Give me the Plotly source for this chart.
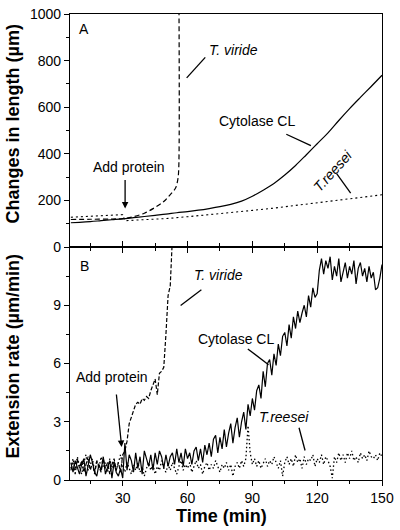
import plotly.graph_objects as go

# ---------------- Panel A: changes in length (µm) ----------------
len_time_cytolase = [6, 10, 15, 20, 25, 30, 35, 40, 45, 50, 55, 60, 65, 70, 75, 80, 85, 90,
                     95, 100, 105, 110, 115, 120, 125, 130, 135, 140, 145, 150]
len_cytolase = [104, 106, 109, 113, 117, 121, 126, 131, 136, 141, 147, 152, 158, 165, 173, 183,
                197, 218, 244, 273, 309, 350, 396, 443, 490, 543, 594, 642, 689, 737]

len_time_reesei = [6, 15, 25, 30, 31, 40, 50, 60, 70, 80, 90, 100, 110, 120, 130, 140, 150]
len_reesei = [128, 131, 136, 139, 113, 116, 122, 130, 138, 147, 157, 167, 178, 189, 200, 212, 224]

len_time_viride = [6, 15, 25, 30, 35, 40, 45, 49, 52, 54.4, 55.5, 55.9, 56.0]
len_viride = [118, 119, 120, 122, 130, 145, 170, 195, 225, 252, 290, 330, 1100]

# ---------------- Panel B: extension rate (µm/min) ----------------
rate_time = list(range(6, 151))
rate_cytolase = [
    0.9, 0.4, 1.0, 0.7, 0.3, 0.8, 1.1, 0.2, 0.7, 1.3, 0.9, 0.4, 0.2, 0.8, 0.5, 1.2, 0.3, 0.7, 1.0, 0.1,
    0.9, 0.4, 0.2, 0.6, 0.1,                                   # 6-30
    1.9, 0.5, 1.3, 1.0, 0.4, 1.4, 0.6, 1.2, 0.3, 1.5, 1.1, 0.7, 1.3, 0.5, 1.4, 0.8, 1.5, 1.2, 0.6, 1.3,
    0.7, 1.2, 1.4, 0.8, 1.6, 0.9, 1.4, 0.7, 1.6, 1.1,          # 31-60
    1.4, 0.8, 1.5, 1.7, 1.0, 1.6, 0.9, 1.8, 1.3, 1.9, 1.2, 2.1, 2.3, 1.4, 2.2, 1.6, 2.6, 1.7, 2.4, 2.9,
    1.9, 2.7, 3.2, 2.2, 3.0, 3.5, 2.6, 3.9, 3.3, 4.2,          # 61-90
    3.6, 4.6, 4.9, 4.2, 5.6, 4.8, 6.0, 6.2, 5.4, 6.5, 5.9, 7.0, 6.4, 7.4, 7.6, 6.9, 8.0, 7.3, 8.4, 7.8,
    8.7, 8.1, 8.6, 9.0, 8.4, 9.5, 8.9, 9.9, 9.4, 9.6,          # 91-120
    10.8, 11.4, 10.6, 11.3, 10.9, 11.5, 10.3, 11.0, 10.5, 11.4, 10.2, 10.8, 11.2, 10.4, 11.0, 10.6,
    11.3, 10.1, 10.9, 11.2, 10.5, 10.9, 10.2, 11.0, 10.4, 10.7, 9.8, 9.9, 10.4, 11.1,   # 121-150
]
rate_reesei = [
    0.6, 1.1, 0.5, 1.2, 0.7, 0.3, 0.9, 1.3, 0.5, 0.8, 1.1, 0.4, 1.0, 0.6, 1.2, 0.7, 0.9, 0.4, 1.1, 0.6,
    1.0, 0.5, 0.9, 1.3, 0.7,                                   # 6-30
    0.4, 0.9, 0.6, 0.3, 0.8, 0.5, 0.9, 0.4, 0.7, 0.2, 0.6, 0.9, 0.5, 0.8, 0.3, 0.7, 0.5, 1.0, 0.6, 0.4,
    0.8, 0.5, 0.9, 0.6, 0.3, 0.7, 1.0, 0.5, 0.8, 0.6,          # 31-60
    0.9, 0.4, 0.7, 1.0, 0.6, 0.8, 0.3, 0.7, 0.9, 0.5, 0.8, 0.6, 1.0, 0.7, 0.4, 0.8, 0.6, 0.9, 0.5, 0.8,
    0.2, 0.7, 0.9, 0.6, 1.0, 0.7, 1.1, 2.8, 1.4, 0.8,          # 61-90
    1.1, 0.7, 1.0, 0.6, 0.9, 1.1, 0.7, 1.0, 0.8, 1.2, 0.9, 0.6, 1.0, 0.2, 0.9, 1.2, 0.8, 1.1, 0.7, 1.3,
    0.9, 1.1, 0.6, 1.2, 0.8, 1.1, 1.0, 1.3, 0.7, 1.1,          # 91-120
    0.9, 1.3, 0.8, 1.2, 1.0, 0.7, 0.1, 1.2, 0.9, 1.4, 1.0, 1.3, 0.9, 1.4, 1.1, 1.5, 1.0, 1.2, 0.9, 1.4,
    1.1, 1.3, 1.0, 1.5, 1.2, 1.1, 1.3, 1.0, 1.4, 1.2,          # 121-150
]
rate_time_viride = list(range(6, 54))
rate_viride = [
    0.5, 0.9, 0.3, 1.1, 0.6, 1.0, 0.4, 0.8, 1.2, 0.5, 0.9, 0.3, 1.0, 0.7, 0.4, 1.1, 0.6, 0.9, 0.3, 0.8,
    1.1, 0.5, 0.9, 0.4, 1.3,                                   # 6-30
    1.5, 2.0, 2.9, 3.2, 3.6, 3.9, 4.0, 3.9, 4.2, 4.1, 4.3, 4.2, 4.6, 4.9, 5.2, 4.4, 5.5, 5.6, 5.8, 7.5,
    9.5, 10.0, 12.5,                                           # 31-53
]

x_ticks = [30, 60, 90, 120, 150]
x_ticklabels = ["30", "60", "90", "120", "150"]
yA_ticks = [0, 200, 400, 600, 800, 1000]
yB_ticks = [0, 3, 6, 9]

FONT = "Arial, Liberation Sans, sans-serif"
BLACK = "black"

fig = go.Figure()

# Panel A traces
fig.add_trace(go.Scatter(x=len_time_cytolase, y=len_cytolase, mode="lines", line_shape="spline",
                         line=dict(color=BLACK, width=1.2), xaxis="x", yaxis="y", name="Cytolase CL"))
fig.add_trace(go.Scatter(x=len_time_reesei, y=len_reesei, mode="lines",
                         line=dict(color=BLACK, width=1.1, dash="2px,3px"), xaxis="x", yaxis="y",
                         name="T. reesei"))
fig.add_trace(go.Scatter(x=len_time_viride, y=len_viride, mode="lines", line_shape="spline",
                         line=dict(color=BLACK, width=1.2, dash="5px,3px"), xaxis="x", yaxis="y",
                         name="T. viride"))

# Panel B traces
fig.add_trace(go.Scatter(x=rate_time, y=rate_reesei, mode="lines",
                         line=dict(color=BLACK, width=1.3, dash="1.5px,2.5px"), xaxis="x2", yaxis="y2",
                         name="T. reesei"))
fig.add_trace(go.Scatter(x=rate_time_viride, y=rate_viride, mode="lines",
                         line=dict(color=BLACK, width=1.2, dash="4px,2px"), xaxis="x2", yaxis="y2",
                         name="T. viride"))
fig.add_trace(go.Scatter(x=rate_time, y=rate_cytolase, mode="lines",
                         line=dict(color=BLACK, width=1.2), xaxis="x2", yaxis="y2",
                         name="Cytolase CL"))

XR = [5.6, 150]
axis_common = dict(showline=True, linecolor=BLACK, linewidth=1.3, ticks="outside", ticklen=5,
                   tickwidth=1.2, tickcolor=BLACK, showgrid=False, zeroline=False,
                   ticklabeloverflow="allow",
                   tickfont=dict(family=FONT, size=14, color=BLACK))

fig.update_layout(
    width=400, height=530,
    margin=dict(l=70, r=14, t=6, b=50),
    paper_bgcolor="white", plot_bgcolor="white",
    showlegend=False,
    xaxis=dict(axis_common, range=XR, anchor="y", tickvals=x_ticks, showticklabels=False,
               mirror=True, minor=dict(dtick=15, tick0=0, ticklen=3, ticks="outside", tickcolor=BLACK)),
    yaxis=dict(axis_common, range=[0, 1000], domain=[0.5, 1.0], anchor="x", tickvals=yA_ticks,
               mirror=True, minor=dict(dtick=100, tick0=0, ticklen=3, ticks="outside", tickcolor=BLACK)),
    xaxis2=dict(axis_common, range=XR, anchor="y2", tickvals=x_ticks, ticktext=x_ticklabels,
                mirror="ticks", minor=dict(dtick=15, tick0=0, ticklen=3, ticks="outside", tickcolor=BLACK)),
    yaxis2=dict(axis_common, range=[0, 12], domain=[0.0, 0.5], anchor="x2", tickvals=yB_ticks,
                mirror=True, minor=dict(dtick=1.5, tick0=0, ticklen=3, ticks="outside", tickcolor=BLACK)),
)

txt = dict(family=FONT, size=14, color=BLACK)
itxt = dict(family=FONT, size=14, color=BLACK, style="italic")

ann = []
# Panel A labels
ann.append(dict(x=12.0, y=937, xref="x", yref="y", text="A", showarrow=False, font=txt))
ann.append(dict(x=81.5, y=846, xref="x", yref="y", text="T. viride", showarrow=False, font=itxt))
ann.append(dict(x=92.0, y=540, xref="x", yref="y", text="Cytolase CL", showarrow=False, font=txt))
ann.append(dict(x=127.2, y=325, xref="x", yref="y", text="T.reesei", showarrow=False, font=itxt,
                textangle=-48))
ann.append(dict(x=33.1, y=343, xref="x", yref="y", text="Add protein", showarrow=False, font=txt))
ann.append(dict(x=31.1, y=165, ax=31.1, ay=294, xref="x", yref="y", axref="x", ayref="y", text="",
                showarrow=True, arrowhead=2, arrowsize=1, arrowwidth=1.3, arrowcolor=BLACK))
# Panel B labels
ann.append(dict(x=12.5, y=11.0, xref="x2", yref="y2", text="B", showarrow=False, font=txt))
ann.append(dict(x=74.2, y=10.56, xref="x2", yref="y2", text="T. viride", showarrow=False, font=itxt))
ann.append(dict(x=82.2, y=7.26, xref="x2", yref="y2", text="Cytolase CL", showarrow=False, font=txt))
ann.append(dict(x=104.6, y=3.25, xref="x2", yref="y2", text="T.reesei", showarrow=False, font=itxt))
ann.append(dict(x=25.1, y=5.33, xref="x2", yref="y2", text="Add protein", showarrow=False, font=txt))
ann.append(dict(x=29.5, y=1.7, ax=27.0, ay=4.48, xref="x2", yref="y2", axref="x2", ayref="y2", text="",
                showarrow=True, arrowhead=2, arrowsize=1, arrowwidth=1.3, arrowcolor=BLACK))
# Axis titles
btxt = dict(family=FONT, size=18, color=BLACK, weight="bold")
ann.append(dict(x=-0.183, y=0.765, xref="paper", yref="paper", text="Changes in length (µm)",
                showarrow=False, textangle=-90, font=btxt, xanchor="center", yanchor="middle"))
ann.append(dict(x=-0.183, y=0.265, xref="paper", yref="paper", text="Extension rate (µm/min)",
                showarrow=False, textangle=-90, font=btxt, xanchor="center", yanchor="middle"))
ann.append(dict(x=0.484, y=-0.078, xref="paper", yref="paper", text="Time (min)",
                showarrow=False, font=btxt, xanchor="center", yanchor="middle"))
fig.update_layout(annotations=ann)

# Leader lines
leaders = [
    ("x", "y", 59.6, 726, 68.2, 814),
    ("x", "y", 105.7, 484, 117.1, 435),
    ("x", "y", 129.0, 315, 135.5, 231),
    ("x2", "y2", 56.8, 8.99, 66.4, 9.80),
    ("x2", "y2", 87.9, 6.75, 97.5, 5.94),
    ("x2", "y2", 111.6, 2.69, 114.4, 1.52),
]
for xr, yr, x0, y0, x1, y1 in leaders:
    fig.add_shape(type="line", xref=xr, yref=yr, x0=x0, y0=y0, x1=x1, y1=y1,
                  line=dict(color=BLACK, width=1.3))

fig.write_html("out.html", config={"displayModeBar": False},
               post_script="document.body.style.margin='0';document.body.style.padding='0';")
